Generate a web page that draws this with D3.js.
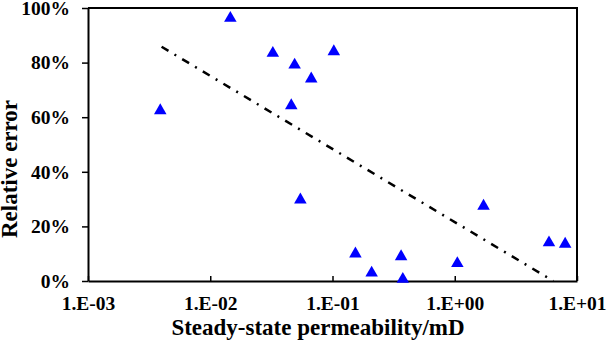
<!DOCTYPE html>
<html lang="en">
<head>
<meta charset="UTF-8">
<title>Relative error vs permeability</title>
<script src="https://d3js.org/d3.v7.min.js"></script>
<style>
  body { margin: 0; background: #fff; }
  text { font-family: "Liberation Serif", "Times New Roman", serif; font-weight: bold; }
</style>
</head>
<body>
<div id="chart"></div>
<script>
// steady-state permeability (mD) and relative error
const permeability = [0.0039, 0.0146, 0.0325, 0.049, 0.046, 0.067, 0.1025, 0.0546,
                      0.154, 0.209, 0.364, 0.376, 1.05, 1.72, 5.9, 8.0];
const relError = [0.63, 0.968, 0.84, 0.797, 0.648, 0.746, 0.846, 0.303,
                  0.105, 0.035, 0.095, 0.012, 0.07, 0.28, 0.146, 0.141];
// trend line end points
const trendX = [0.004, 6.4];
const trendY = [0.858, 0];
const xTicks = [1e-3, 1e-2, 1e-1, 1e0, 1e1];
const xTickLabels = ["1.E-03", "1.E-02", "1.E-01", "1.E+00", "1.E+01"];
const yTicks = [0, 0.2, 0.4, 0.6, 0.8, 1.0];

const W = 607, H = 341;
const margin = { top: 8, right: 30, bottom: 60, left: 88 };
const width = W - margin.left - margin.right;
const height = H - margin.top - margin.bottom;

const svg = d3.select("#chart").append("svg")
    .attr("width", W)
    .attr("height", H);

const g = svg.append("g")
    .attr("transform", `translate(${margin.left},${margin.top})`);

const x = d3.scaleLog().domain([1e-3, 1e1]).range([0, width]);
const y = d3.scaleLinear().domain([0, 1]).range([height, 0]);

// frame (top and right)
g.append("path")
    .attr("d", `M0,0H${width}V${height}`)
    .attr("fill", "none")
    .attr("stroke", "#000")
    .attr("stroke-width", 2);

// x axis, ticks pointing inward
const xAxis = g.append("g")
    .attr("transform", `translate(0,${height})`)
    .call(d3.axisBottom(x).tickValues(xTicks).tickSizeInner(-5).tickSizeOuter(0)
        .tickPadding(15)
        .tickFormat((d, i) => xTickLabels[i]));

// y axis, ticks outward
const yAxis = g.append("g")
    .call(d3.axisLeft(y).tickValues(yTicks).tickSizeInner(6).tickSizeOuter(0)
        .tickPadding(12)
        .tickFormat(d3.format(".0%")));

[xAxis, yAxis].forEach(a => {
    a.attr("font-family", null);
    a.select(".domain").attr("stroke", "#000").attr("stroke-width", 2);
    a.selectAll(".tick line").attr("stroke", "#000").attr("stroke-width", 1.5);
    a.selectAll("text")
        .attr("fill", "#000")
        .style("font-size", "19.5px")
        .style("font-family", "'Liberation Serif', 'Times New Roman', serif")
        .style("font-weight", "bold");
});

// trend line
const line = d3.line().x(d => x(d[0])).y(d => y(d[1]));
g.append("path")
    .datum(trendX.map((v, i) => [v, trendY[i]]))
    .attr("d", line)
    .attr("fill", "none")
    .attr("stroke", "#000")
    .attr("stroke-width", 2.5)
    .attr("stroke-dasharray", "8,7,2,7");

// points
const tri = d3.symbol().type(d3.symbolTriangle).size(68);
g.selectAll(".pt")
    .data(permeability.map((v, i) => [v, relError[i]]))
    .enter().append("path")
    .attr("class", "pt")
    .attr("d", tri)
    .attr("fill", "#0000ff")
    .attr("transform", d => `translate(${x(d[0])},${y(d[1]) + 1.5})`);

// axis titles
svg.append("text")
    .attr("x", 318)
    .attr("y", 335)
    .attr("text-anchor", "middle")
    .style("font-size", "23px")
    .text("Steady-state permeability/mD");

svg.append("text")
    .attr("transform", "translate(17,169) rotate(-90)")
    .attr("text-anchor", "middle")
    .style("font-size", "23px")
    .text("Relative error");
</script>
</body>
</html>
